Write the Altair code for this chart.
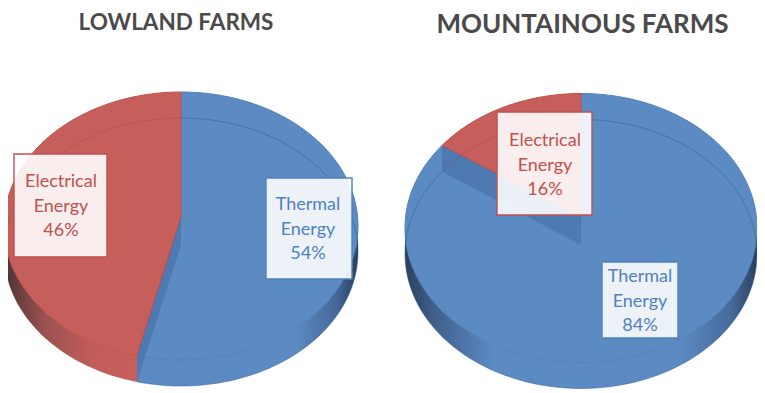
import math
import altair as alt
import pandas as pd

# --- chart values -------------------------------------------------------
farms = ["LOWLAND FARMS", "MOUNTAINOUS FARMS"]
energy = ["Electrical", "Thermal"]
labelled_share = [[46, 54], [16, 84]]      # percentages printed in the boxes
drawn_electrical = [46.0, 14.5]            # size of the red slice as drawn

# --- layout -------------------------------------------------------------
PIES = [
    dict(cx=181, cy=226, rx=177, ry=134, ax=217),
    dict(cx=581, cy=228, rx=176, ry=134.5, ax=217),
]
DEPTH = 26
RED, BLUE = "#c65f5c", "#5c8ac2"
RED_LINE, BLUE_LINE = "#c0504d", "#4f81bd"
FONT = "Lato"

X = alt.Scale(domain=[8, 757], nice=False, zero=False)
Y = alt.Scale(domain=[390, 8], nice=False, zero=False)


def pt(p, t, dy=0):
    r = math.radians(t)
    return (p["cx"] + p["rx"] * math.sin(r), p["cy"] - p["ry"] * math.cos(r) + dy)


def arc(p, a, b, dy=0):
    n = max(2, int(abs(b - a) / 1.5))
    return [pt(p, a + (b - a) * i / n, dy) for i in range(n + 1)]


def poly(points, **mark):
    df = pd.DataFrame(points, columns=["x", "y"])
    df["i"] = range(len(df))
    return alt.Chart(df).mark_line(interpolate="linear", **mark).encode(
        x=alt.X("x:Q", scale=X, axis=None),
        y=alt.Y("y:Q", scale=Y, axis=None),
        order="i:Q",
    )


def grad(stops):
    return alt.Gradient(
        gradient="linear", x1=0, x2=1, y1=0, y2=0,
        stops=[alt.GradientStop(offset=o, color=c) for o, c in stops],
    )


layers = []
for p, red_pct in zip(PIES, drawn_electrical):
    t_b = 360 - red_pct * 3.6
    apex = (p["cx"], p["ax"])
    apex_low = (p["cx"], p["ax"] + DEPTH + 2)
    # rim
    if t_b < 270:
        layers.append(poly(arc(p, 90, t_b) + arc(p, t_b, 90, DEPTH), filled=True, strokeWidth=0,
                           fill=grad([(0, BLUE), (0.72, BLUE), (0.9, "#46699a"), (1, "#2b3f5c")])))
        layers.append(poly(arc(p, t_b, 270) + arc(p, 270, t_b, DEPTH), filled=True, strokeWidth=0,
                           fill=grad([(0, "#4d3232"), (0.3, "#9a5250"), (0.65, "#c05c59"), (1, RED)])))
    else:
        layers.append(poly(arc(p, 90, 270) + arc(p, 270, 90, DEPTH), filled=True, strokeWidth=0,
                           fill=grad([(0, "#2b3f5c"), (0.08, "#3f5f8a"), (0.25, BLUE), (0.78, BLUE),
                                      (0.93, "#46699a"), (1, "#2b3f5c")])))
    # top faces
    layers.append(poly([apex] + arc(p, 0, t_b) + [apex], filled=True, fill=BLUE, stroke=BLUE_LINE, strokeWidth=1))
    layers.append(poly([apex] + arc(p, t_b, 360) + [apex], filled=True, fill=RED, stroke=RED_LINE, strokeWidth=1))
    # inner wall seen through the transparent top
    b = pt(p, t_b)
    b_low = pt(p, t_b, DEPTH)
    layers.append(poly([apex, apex_low, b_low, b, apex], filled=True, fill="#41679f", fillOpacity=0.5, strokeWidth=0))
    # faint lower ellipse
    layers.append(poly(arc(p, t_b, 360, DEPTH), stroke="#8a3f3c", strokeOpacity=0.3, strokeWidth=1))
    layers.append(poly(arc(p, 0, t_b, DEPTH), stroke="#2f5a94", strokeOpacity=0.5, strokeWidth=1))

# --- label boxes --------------------------------------------------------
BOXES = [
    (14, 107, 154, 257, 61, 182, RED_LINE, 0, 0),
    (266, 352, 178, 279, 308, 205, BLUE_LINE, 0, 1),
    (497, 592, 112, 215, 545, 141, RED_LINE, 1, 0),
    (602, 678, 262, 338, 640, 277, BLUE_LINE, 1, 1),
]
LINE = 24.5
for x0, x1, y0, y1, tx, ty, col, f, e in BOXES:
    box = pd.DataFrame([dict(x=x0, x2=x1, y=y0, y2=y1)])
    layers.append(alt.Chart(box).mark_rect(fill="white", fillOpacity=0.89, stroke=col, strokeWidth=1.4).encode(
        x=alt.X("x:Q", scale=X, axis=None), x2="x2:Q",
        y=alt.Y("y:Q", scale=Y, axis=None), y2="y2:Q"))
    lines = [energy[e], "Energy", f"{labelled_share[f][e]}%"]
    txt = pd.DataFrame([dict(x=tx, y=ty + i * LINE, t=s) for i, s in enumerate(lines)])
    layers.append(alt.Chart(txt).mark_text(font=FONT, fontSize=18, color=col, align="center", baseline="middle").encode(
        x=alt.X("x:Q", scale=X, axis=None), y=alt.Y("y:Q", scale=Y, axis=None), text="t:N"))

# --- titles -------------------------------------------------------------
titles = [
    dict(x=176, y=23, t=farms[0], s=22.5),
    dict(x=582.5, y=25, t=farms[1], s=26),
]
for r in titles:
    layers.append(alt.Chart(pd.DataFrame([r])).mark_text(
        font=FONT, fontWeight="bold", fontSize=r["s"], color="#4a4a4a", align="center", baseline="middle"
    ).encode(x=alt.X("x:Q", scale=X, axis=None), y=alt.Y("y:Q", scale=Y, axis=None), text="t:N"))

chart = alt.layer(*layers).properties(
    width=749, height=382, padding=0, autosize=alt.AutoSizeParams(type="none"),
    background="white",
).configure_view(stroke=None)

chart.save("out.html", embed_options={"renderer": "svg", "actions": False})
